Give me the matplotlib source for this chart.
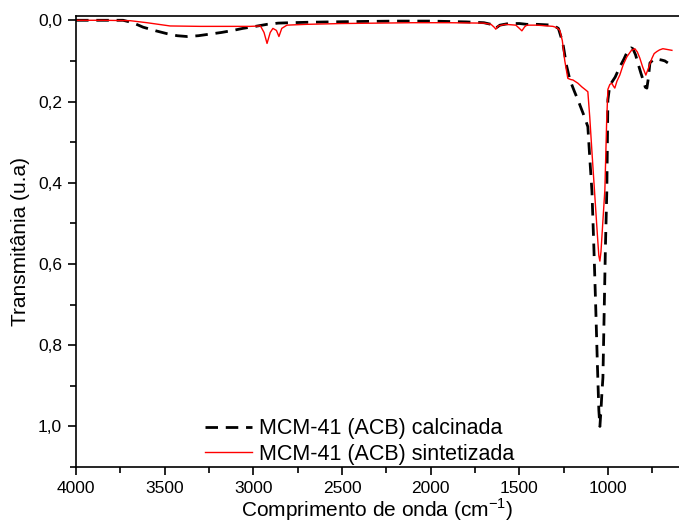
import matplotlib
matplotlib.use("Agg")
import matplotlib.pyplot as plt
from matplotlib.ticker import MultipleLocator, FuncFormatter

plt.rcParams['font.family'] = ['Liberation Sans', 'DejaVu Sans']
plt.rcParams['mathtext.fontset'] = 'custom'
plt.rcParams['mathtext.rm'] = 'Liberation Sans'

# MCM-41 (ACB) calcinada (black dashed)
wn_calc = [4000, 3850, 3735, 3680, 3622, 3550, 3487, 3430, 3374, 3310, 3245, 3180, 3115,
           3060, 3002, 2923, 2860, 2794, 2700, 2568, 2400, 2200, 2000, 1800, 1700, 1660,
           1635, 1610, 1560, 1500, 1458, 1400, 1311, 1280, 1255, 1235, 1215, 1190, 1170,
           1140, 1114, 1103, 1091, 1080, 1070, 1060, 1052, 1046, 1040, 1035, 1029, 1022,
           1015, 1007, 1001, 990, 975, 960, 934, 910, 888, 870, 860, 845, 832, 815,
           800, 790, 781, 772, 764, 740, 720, 697, 680, 663]
ab_calc = [0.0, 0.0, 0.0, 0.006, 0.017, 0.026, 0.033, 0.038, 0.040, 0.038, 0.034, 0.030, 0.025,
           0.020, 0.016, 0.010, 0.007, 0.006, 0.005, 0.004, 0.003, 0.002, 0.002, 0.004, 0.006, 0.010,
           0.020, 0.012, 0.008, 0.008, 0.010, 0.010, 0.012, 0.020, 0.056, 0.110, 0.147, 0.175, 0.196,
           0.230, 0.262, 0.340, 0.420, 0.560, 0.700, 0.850, 0.960, 1.000, 0.960, 0.920, 0.880, 0.720,
           0.560, 0.420, 0.196, 0.160, 0.150, 0.140, 0.115, 0.095, 0.074, 0.068, 0.070, 0.085, 0.105, 0.130,
           0.150, 0.165, 0.167, 0.140, 0.105, 0.095, 0.096, 0.098, 0.100, 0.105]

# MCM-41 (ACB) sintetizada (red solid)
wn_sint = [4000, 3850, 3695, 3600, 3470, 3300, 3100, 3019, 2960, 2940, 2923, 2905, 2890,
           2870, 2856, 2840, 2811, 2700, 2500, 2300, 2100, 1900, 1700, 1660, 1640, 1633,
           1620, 1580, 1520, 1500, 1486, 1470, 1458, 1400, 1311, 1290, 1272, 1258, 1244,
           1227, 1210, 1198, 1170, 1148, 1125, 1114, 1103, 1090, 1075, 1060, 1052, 1046,
           1040, 1030, 1018, 1008, 1001, 990, 979, 970, 962, 950, 934, 915, 894, 870,
           849, 835, 821, 805, 787, 770, 753, 740, 725, 710, 691, 665, 640]
ab_sint = [0.0, 0.0, 0.001, 0.006, 0.014, 0.015, 0.015, 0.015, 0.014, 0.030, 0.057, 0.030, 0.020,
           0.025, 0.040, 0.020, 0.012, 0.010, 0.008, 0.007, 0.006, 0.006, 0.007, 0.010, 0.018, 0.022,
           0.014, 0.010, 0.012, 0.020, 0.026, 0.016, 0.012, 0.012, 0.015, 0.018, 0.025, 0.050, 0.100,
           0.143, 0.146, 0.147, 0.155, 0.164, 0.172, 0.176, 0.240, 0.330, 0.430, 0.530, 0.580, 0.593,
           0.570, 0.500, 0.417, 0.250, 0.170, 0.158, 0.155, 0.162, 0.167, 0.150, 0.135, 0.110, 0.090, 0.075,
           0.070, 0.078, 0.093, 0.115, 0.135, 0.115, 0.094, 0.082, 0.077, 0.073, 0.070, 0.072, 0.074]

labels = ['MCM-41 (ACB) calcinada', 'MCM-41 (ACB) sintetizada']

fig = plt.figure(figsize=(6.79, 5.23), dpi=100)
ax = fig.add_axes([0.112, 0.107, 0.888, 0.862])

ax.plot(wn_calc, ab_calc, color='black', linestyle=(0, (4.5, 2.8)), linewidth=2.0, label=labels[0])
ax.plot(wn_sint, ab_sint, color='red', linewidth=1.0, label=labels[1])

ax.set_xlim(4000, 600)
ax.set_ylim(1.1, -0.01)

ax.xaxis.set_major_locator(MultipleLocator(500))
ax.xaxis.set_minor_locator(MultipleLocator(250))
ax.yaxis.set_major_locator(MultipleLocator(0.2))
ax.yaxis.set_minor_locator(MultipleLocator(0.1))
ax.yaxis.set_major_formatter(FuncFormatter(lambda v, p: f"{v:.1f}".replace('.', ',')))

ax.tick_params(which='both', direction='out', top=False, right=False, labelsize=12.5, width=1.2)
ax.tick_params(which='major', length=6, pad=4)
ax.tick_params(which='minor', length=4)
for s in ax.spines.values():
    s.set_linewidth(1.2)
ax.spines['right'].set_visible(False)

ax.set_xlabel(r'Comprimento de onda (cm$^{\mathregular{-1}}$)', fontsize=15, labelpad=0)
ax.set_ylabel('Transmitânia (u.a)', fontsize=15, labelpad=6)

ax.legend(loc='lower left', bbox_to_anchor=(0.214, 0.005), frameon=False, fontsize=15.5,
          handlelength=2.2, handletextpad=0.3, labelspacing=0.22, borderpad=0, borderaxespad=0)

fig.savefig('out.png', dpi=100)
